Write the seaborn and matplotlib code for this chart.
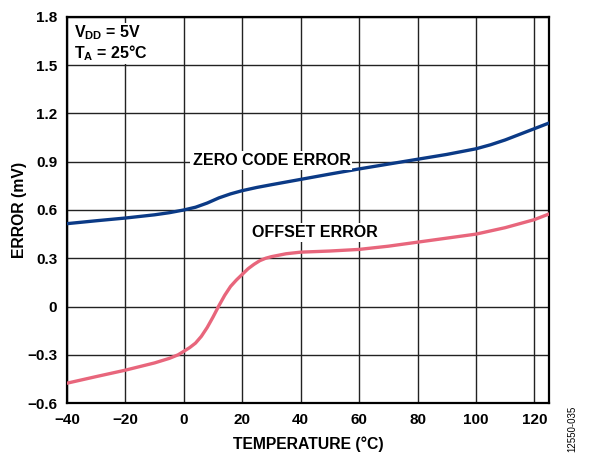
import matplotlib
matplotlib.use('Agg')
import matplotlib.pyplot as plt
import seaborn as sns
import pandas as pd

# values
temp_zero = [-40, -30, -20, -10, -5, 0, 4, 8, 12, 16, 20, 25, 30, 40, 50, 60, 70, 80,
             90, 100, 105, 110, 115, 120, 125]
zero_code_error = [0.515, 0.533, 0.55, 0.57, 0.583, 0.60, 0.617, 0.643, 0.675, 0.70,
                   0.72, 0.74, 0.757, 0.79, 0.823, 0.855, 0.885, 0.915, 0.945, 0.98,
                   1.005, 1.035, 1.07, 1.105, 1.14]

temp_offset = [-40, -30, -20, -10, -5, -2, 0, 2, 4, 6, 8, 10, 12, 14, 16, 18, 20, 22,
               24, 26, 28, 30, 35, 40, 50, 60, 70, 80, 90, 100, 110, 120, 125]
offset_error = [-0.476, -0.435, -0.395, -0.35, -0.322, -0.3, -0.278, -0.255, -0.227,
                -0.185, -0.13, -0.065, 0.005, 0.07, 0.125, 0.165, 0.20, 0.235, 0.262,
                0.285, 0.30, 0.31, 0.328, 0.338, 0.345, 0.355, 0.375, 0.40, 0.425,
                0.45, 0.49, 0.54, 0.575]

x_ticks = [-40, -20, 0, 20, 40, 60, 80, 100, 120]
y_ticks = [-0.6, -0.3, 0, 0.3, 0.6, 0.9, 1.2, 1.5, 1.8]
y_tick_labels = ['\u22120.6', '\u22120.3', '0', '0.3', '0.6', '0.9', '1.2', '1.5', '1.8']

sns.set_theme(style='white')
plt.rcParams['font.family'] = ['Liberation Sans', 'DejaVu Sans']
plt.rcParams['font.weight'] = 'bold'
plt.rcParams['text.color'] = 'black'
plt.rcParams['axes.labelcolor'] = 'black'
plt.rcParams['xtick.color'] = 'black'
plt.rcParams['ytick.color'] = 'black'
plt.rcParams['mathtext.fontset'] = 'custom'
plt.rcParams['mathtext.rm'] = 'Liberation Sans:bold'
plt.rcParams['mathtext.bf'] = 'Liberation Sans:bold'

df_zero = pd.DataFrame({'temp': temp_zero, 'err': zero_code_error})
df_off = pd.DataFrame({'temp': temp_offset, 'err': offset_error})

fig = plt.figure(figsize=(5.98, 4.54), dpi=100)
ax = fig.add_axes([0.112, 0.112, 0.806, 0.851])

sns.lineplot(data=df_zero, x='temp', y='err', color='#0b3a86', linewidth=2.4, ax=ax,
             zorder=3, solid_joinstyle='round', solid_capstyle='round')
sns.lineplot(data=df_off, x='temp', y='err', color='#e8667c', linewidth=2.4, ax=ax,
             zorder=3, solid_joinstyle='round', solid_capstyle='round')

ax.set_xlim(-40, 125)
ax.set_ylim(-0.6, 1.8)
ax.set_xticks(x_ticks)
ax.set_xticklabels([str(t).replace('-', '\u2212') for t in x_ticks])
ax.set_yticks(y_ticks)
ax.set_yticklabels(y_tick_labels)
ax.tick_params(length=0, labelsize=11, pad=7, colors='black')
for lab in ax.get_xticklabels() + ax.get_yticklabels():
    lab.set_fontweight('bold')

ax.grid(True, color='#222222', linewidth=1.0)
ax.set_axisbelow(True)
for s in ax.spines.values():
    s.set_color('black')
    s.set_linewidth(1.6)

ax.set_xlabel('TEMPERATURE (°C)', fontsize=11.3, fontweight='bold', labelpad=7)
ax.set_ylabel('ERROR (mV)', fontsize=11.3, fontweight='bold', labelpad=0)

ax.text(30, 0.905, 'ZERO CODE ERROR', fontsize=11.5, fontweight='bold', ha='center', va='center',
        bbox=dict(facecolor='white', edgecolor='none', pad=1.5), zorder=4)
ax.text(45, 0.458, 'OFFSET ERROR', fontsize=11.5, fontweight='bold', ha='center', va='center',
        bbox=dict(facecolor='white', edgecolor='none', pad=1.5), zorder=4)

ax.text(0.014, 0.983, '$\\mathbf{V_{DD}}$ = 5V\n$\\mathbf{T_{A}}$ = 25°C', transform=ax.transAxes,
        fontsize=11.5, fontweight='bold', ha='left', va='top', linespacing=1.1,
        bbox=dict(facecolor='white', edgecolor='none', pad=0.5), zorder=4)

fig.text(0.957, 0.005, '12550-035', rotation=90, fontsize=7, fontweight='normal',
         ha='center', va='bottom')

fig.savefig('out.png', dpi=100)
